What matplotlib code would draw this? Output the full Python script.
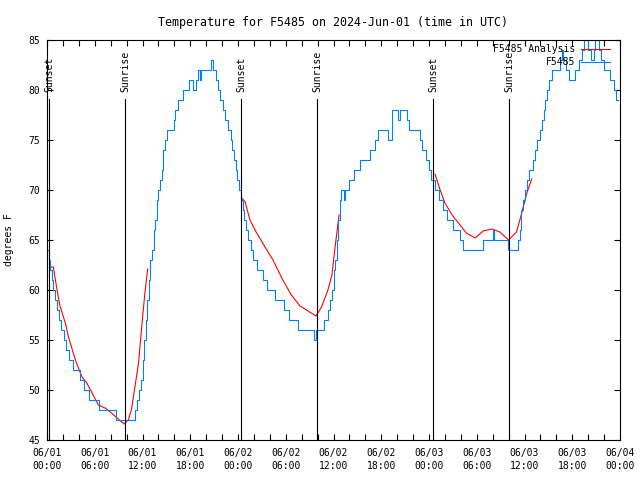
import numpy as np
import matplotlib
matplotlib.use('Agg')
import matplotlib.pyplot as plt

plt.rcParams['font.family'] = ['DejaVu Sans Mono']
plt.rcParams['font.size'] = 7

# observed temperatures (hours since 06/01 00:00 UTC, degrees F)
obs_hours = [0.0, 0.2, 0.4, 0.6, 0.8, 1.0, 1.2, 1.5, 1.8, 2.1, 2.4, 2.8, 3.3, 4.1,
             4.7, 5.3, 6.5, 8.7, 11.0, 11.3, 11.6, 11.8, 12.0, 12.2, 12.4, 12.6,
             12.8, 13.0, 13.2, 13.4, 13.6, 13.8, 14.0, 14.2, 14.4, 14.6, 14.8, 15.1,
             15.9, 16.1, 16.4, 17.1, 17.8, 18.3, 18.7, 19.0, 19.2, 19.4, 20.6, 20.9,
             21.2, 21.5, 21.8, 22.1, 22.4, 22.8, 23.1, 23.3, 23.5, 23.7, 23.9, 24.1,
             24.4, 24.6, 24.8, 25.0, 25.3, 25.6, 25.9, 26.4, 27.1, 27.7, 28.6, 29.8,
             30.4, 31.5, 33.6, 33.75, 34.8, 35.3, 35.6, 35.8, 36.0, 36.2, 36.4, 36.6,
             36.8, 37.0, 37.3, 37.5, 38.0, 38.6, 39.3, 40.6, 41.2, 41.6, 42.9, 43.3,
             44.1, 44.3, 45.2, 45.5, 46.9, 47.1, 47.6, 48.0, 48.3, 48.7, 49.2, 49.8,
             50.3, 51.0, 51.9, 52.3, 54.8, 56.0, 56.2, 57.9, 59.2, 59.4, 59.6, 59.85,
             60.1, 60.3, 60.6, 61.1, 61.3, 61.6, 61.9, 62.2, 62.4, 62.6, 62.8, 63.1,
             63.5, 64.5, 64.7, 64.9, 65.2, 65.6, 66.4, 66.9, 67.2, 67.5, 68.0, 68.3,
             68.7, 68.9, 69.3, 69.6, 70.0, 70.8, 71.2, 71.5, 71.8]
obs_temps = [64, 63, 62, 61, 60, 59, 58, 57, 56, 55, 54, 53, 52, 51,
             50, 49, 48, 47, 48, 49, 50, 51, 53, 55, 57, 59,
             61, 63, 64, 66, 67, 69, 70, 71, 72, 74, 75, 76,
             77, 78, 79, 80, 81, 80, 81, 82, 81, 82, 83, 82,
             81, 80, 79, 78, 77, 76, 75, 74, 73, 72, 71, 70,
             69, 68, 67, 66, 65, 64, 63, 62, 61, 60, 59, 58,
             57, 56, 55, 56, 57, 58, 59, 60, 62, 63, 65, 67,
             69, 70, 69, 70, 71, 72, 73, 74, 75, 76, 75, 78,
             77, 78, 77, 76, 75, 74, 73, 72, 71, 70, 69, 68,
             67, 66, 65, 64, 65, 66, 65, 64, 65, 66, 68, 69,
             70, 71, 72, 73, 74, 75, 76, 77, 78, 79, 80, 81,
             82, 83, 84, 83, 82, 81, 82, 83, 84, 85, 84, 83,
             84, 85, 84, 83, 82, 81, 80, 79, 79]

# analysis temperatures, three nightly runs separated by gaps
ana_hours = [0.4, 0.8, 1.2, 1.6, 2.3, 2.7, 3.3, 3.7, 4.4, 5.0, 5.6, 6.45, 7.3, 8.1,
             8.8, 9.7, 10.2, 10.6, 11.05, 11.5, 11.9, 12.3, 12.65, np.nan,
             24.45, 24.9, 25.5, 26.35, 27.4, 28.4, 29.5, 30.7, 31.8, 32.8, 33.8,
             34.5, 35.3, 35.8, 36.2, 36.7, np.nan,
             48.75, 49.4, 50.0, 50.9, 51.7, 52.7, 53.8, 54.8, 55.9, 56.9, 58.0,
             59.0, 59.65, 60.3, 60.9]
ana_temps = [62.3, 62.3, 60.3, 58.5, 56.7, 55.3, 53.7, 52.7, 51.3, 50.7, 49.8, 48.5,
             48.2, 47.7, 47.2, 46.6, 47.0, 48.0, 50.3, 52.7, 56.3, 59.7, 62.1, np.nan,
             69.2, 68.8, 67.0, 65.7, 64.3, 63.0, 61.2, 59.5, 58.4, 57.9, 57.4,
             58.3, 60.0, 61.5, 64.3, 67.5, np.nan,
             71.6, 70.0, 68.7, 67.5, 66.7, 65.7, 65.2, 65.9, 66.1, 65.8, 65.0,
             65.8, 67.7, 69.7, 71.1]

sun_hours = [0.3, 9.85, 24.4, 33.95, 48.5, 58.1]
sun_labels = ['Sunset', 'Sunrise', 'Sunset', 'Sunrise', 'Sunset', 'Sunrise']

xtick_hours = [0, 6, 12, 18, 24, 30, 36, 42, 48, 54, 60, 66, 72]
xtick_labels = ['06/01\n00:00', '06/01\n06:00', '06/01\n12:00', '06/01\n18:00',
                '06/02\n00:00', '06/02\n06:00', '06/02\n12:00', '06/02\n18:00',
                '06/03\n00:00', '06/03\n06:00', '06/03\n12:00', '06/03\n18:00',
                '06/04\n00:00']

fig = plt.figure(figsize=(6.4, 4.8), dpi=100)
ax = fig.add_axes([47 / 640, 40 / 480, 573 / 640, 400 / 480])

# analysis first, observations on top
ax.plot(ana_hours, ana_temps, color='#ff0000', lw=0.8, label='F5485 Analysis')
ax.plot(obs_hours, obs_temps, color='#0080ff', lw=0.8, drawstyle='steps-post',
        label='F5485')

# sunrise / sunset markers
for h, lab in zip(sun_hours, sun_labels):
    ax.plot([h, h], [45, 79.1], color='black', lw=0.8)
    ax.text(h, 79.8, lab, rotation=90, ha='center', va='bottom')

ax.set_xlim(0, 72)
ax.set_ylim(45, 85)
ax.set_xticks(xtick_hours)
ax.set_xticklabels(xtick_labels, linespacing=1.35)
ax.set_xticks(range(0, 73, 2), minor=True)
ax.set_yticks(range(45, 86, 5))
ax.tick_params(which='both', direction='in', top=True, right=True,
               length=4, width=0.8)
ax.tick_params(axis='x', pad=6)
ax.tick_params(axis='y', pad=5)
for s in ax.spines.values():
    s.set_linewidth(0.8)

ax.set_ylabel('degrees F', labelpad=10)
ax.set_title('Temperature for F5485 on 2024-Jun-01 (time in UTC)', pad=10)

ax.legend(loc='upper right', bbox_to_anchor=(0.9825, 0.99), frameon=False,
          markerfirst=False, borderaxespad=0, borderpad=0, handlelength=3.0,
          handletextpad=0.6, labelspacing=0.35)

fig.savefig('out.png', dpi=100)
